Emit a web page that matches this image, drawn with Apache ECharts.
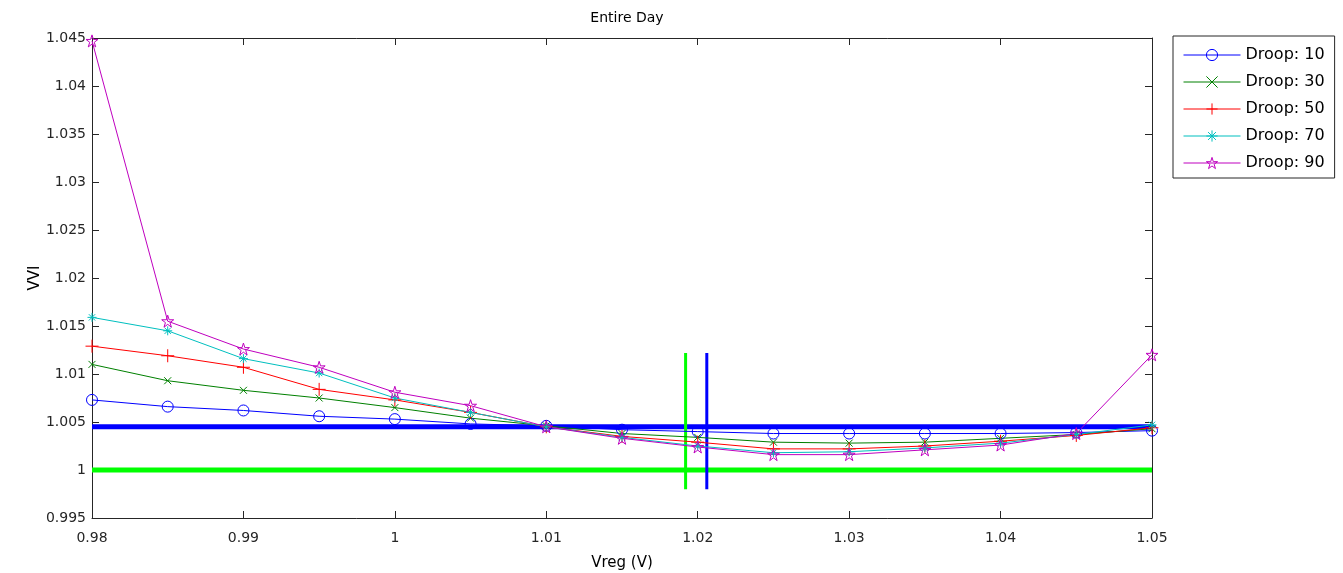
<!DOCTYPE html>
<html>
<head>
<meta charset="utf-8">
<script src="https://cdn.jsdelivr.net/npm/echarts@6/dist/echarts.min.js"></script>
<style>html,body{margin:0;padding:0;background:#fff}#c{width:1343px;height:573px}</style>
</head>
<body>
<div id="c"></div>
<script>
var xValues = [0.98, 0.985, 0.99, 0.995, 1.0, 1.005, 1.01, 1.015, 1.02, 1.025, 1.03, 1.035, 1.04, 1.045, 1.05];
var droop10 = [1.0073, 1.0066, 1.0062, 1.0056, 1.0053, 1.0048, 1.0046, 1.0042, 1.0040, 1.0038, 1.0038, 1.0038, 1.0038, 1.0039, 1.0041];
var droop30 = [1.0110, 1.0093, 1.0083, 1.0075, 1.0065, 1.0054, 1.0046, 1.0038, 1.0034, 1.0029, 1.0028, 1.0029, 1.0033, 1.0037, 1.0043];
var droop50 = [1.0129, 1.0119, 1.0107, 1.0084, 1.0073, 1.0060, 1.0045, 1.0035, 1.0029, 1.0022, 1.0022, 1.0025, 1.0030, 1.0036, 1.0044];
var droop70 = [1.0159, 1.0145, 1.0116, 1.0101, 1.0075, 1.0060, 1.0045, 1.0034, 1.0025, 1.0018, 1.0019, 1.0023, 1.0028, 1.0037, 1.0047];
var droop90 = [1.0447, 1.0155, 1.0126, 1.0107, 1.0081, 1.0067, 1.0045, 1.0033, 1.0024, 1.0016, 1.0016, 1.0021, 1.0026, 1.0038, 1.0120];
var seriesNames = ['Droop: 10', 'Droop: 30', 'Droop: 50', 'Droop: 70', 'Droop: 90'];
var blueLevel = 1.0045;
var greenLevel = 1.0;
var greenVLineX = 1.0192;
var blueVLineX = 1.0206;
var vLineRange = [0.998, 1.0122];
var xRange = [0.98, 1.05];
var yRange = [0.995, 1.045];

var colors = ['#0000ff', '#008000', '#ff0000', '#00bfbf', '#bf00bf'];
var symbols = [
  'circle',
  'path://M0,0L10,10M10,0L0,10',
  'path://M5,0L5,10M0,5L10,5',
  'path://M5,0L5,10M0,5L10,5M1.5,1.5L8.5,8.5M8.5,1.5L1.5,8.5',
  'path://M5,0L6.12,3.46L9.76,3.45L6.81,5.59L7.94,9.05L5,6.9L2.06,9.05L3.19,5.59L0.24,3.45L3.88,3.46Z'
];
var sizes = [11, 7, 13, 9, 12];
var allData = [droop10, droop30, droop50, droop70, droop90];
var FONT = 'DejaVu Sans';

function fmt(v) { return String(parseFloat(v.toFixed(3))); }

var series = [];
series.push({type:'line', name:'refBlueH', data:[[xRange[0], blueLevel],[xRange[1], blueLevel]], symbol:'none', lineStyle:{color:'#0000ff', width:5}, z:1, silent:true});
series.push({type:'line', name:'refGreenH', data:[[xRange[0], greenLevel],[xRange[1], greenLevel]], symbol:'none', lineStyle:{color:'#00ff00', width:5}, z:1, silent:true});
series.push({type:'line', name:'refGreenV', data:[[greenVLineX, vLineRange[0]],[greenVLineX, vLineRange[1]]], symbol:'none', lineStyle:{color:'#00ff00', width:3}, z:1, silent:true});
series.push({type:'line', name:'refBlueV', data:[[blueVLineX, vLineRange[0]],[blueVLineX, vLineRange[1]]], symbol:'none', lineStyle:{color:'#0000ff', width:3}, z:1, silent:true});

for (var i = 0; i < 5; i++) {
  series.push({
    type:'line', name: seriesNames[i],
    data: xValues.map(function(x, j){ return [x, allData[i][j]]; }),
    symbol: symbols[i], symbolSize: sizes[i], showSymbol:true,
    lineStyle:{color: colors[i], width:1},
    itemStyle:{color:'rgba(0,0,0,0)', borderColor: colors[i], borderWidth:1},
    emphasis:{disabled:true}, z:2
  });
}

var legendData = seriesNames.map(function(n, i){
  return {name:n, itemStyle:{color:'rgba(0,0,0,0)', borderColor:colors[i], borderWidth:1}};
});

var axisLineStyle = {color:'#262626', width:1};
var labelStyle = {color:'#262626', fontFamily:FONT, fontSize:14};

var chart = echarts.init(document.getElementById('c'), null, {renderer:'canvas'});
chart.setOption({
  animation:false,
  backgroundColor:'#fff',
  title:{text:'Entire Day', left:622, top:6, textAlign:'center', textStyle:{fontFamily:FONT, fontSize:14, fontWeight:'normal', color:'#000'}},
  grid:{left:92, right:191, top:38, bottom:55, containLabel:false, outerBoundsMode:'none'},
  legend:{
    data: legendData, orient:'vertical', left:1173, top:36,
    itemWidth:57, itemHeight:14, itemGap:11,
    padding:[11,10,7,10], borderColor:'#262626', borderWidth:1,
    lineStyle:{width:1},
    textStyle:{fontFamily:FONT, fontSize:16, lineHeight:14, color:'#000'}
  },
  xAxis:[{
    type:'value', min:xRange[0], max:xRange[1], interval:0.01,
    name:'Vreg (V)', nameLocation:'middle', nameGap:38, nameMoveOverlap:false,
    nameTextStyle:{fontFamily:FONT, fontSize:15, color:'#000'},
    axisLine:{show:true, onZero:false, lineStyle:axisLineStyle},
    axisTick:{show:true, inside:true, length:7, lineStyle:axisLineStyle},
    axisLabel:Object.assign({formatter:fmt, margin:13}, labelStyle),
    splitLine:{show:false}
  },{
    type:'value', position:'top', min:xRange[0], max:xRange[1], interval:0.01,
    axisLine:{show:true, onZero:false, lineStyle:axisLineStyle},
    axisTick:{show:true, inside:true, length:7, lineStyle:axisLineStyle},
    axisLabel:{show:false}, splitLine:{show:false}
  }],
  yAxis:[{
    type:'value', min:yRange[0], max:yRange[1], interval:0.005,
    name:'VVI', nameLocation:'middle', nameGap:49, nameRotate:90, nameMoveOverlap:false,
    nameTextStyle:{fontFamily:FONT, fontSize:15, color:'#000'},
    axisLine:{show:true, onZero:false, lineStyle:axisLineStyle},
    axisTick:{show:true, inside:true, length:7, lineStyle:axisLineStyle},
    axisLabel:Object.assign({formatter:fmt, margin:6}, labelStyle),
    splitLine:{show:false}
  },{
    type:'value', position:'right', min:yRange[0], max:yRange[1], interval:0.005,
    axisLine:{show:true, onZero:false, lineStyle:axisLineStyle},
    axisTick:{show:true, inside:true, length:7, lineStyle:axisLineStyle},
    axisLabel:{show:false}, splitLine:{show:false}
  }],
  series: series
});
</script>
</body>
</html>
